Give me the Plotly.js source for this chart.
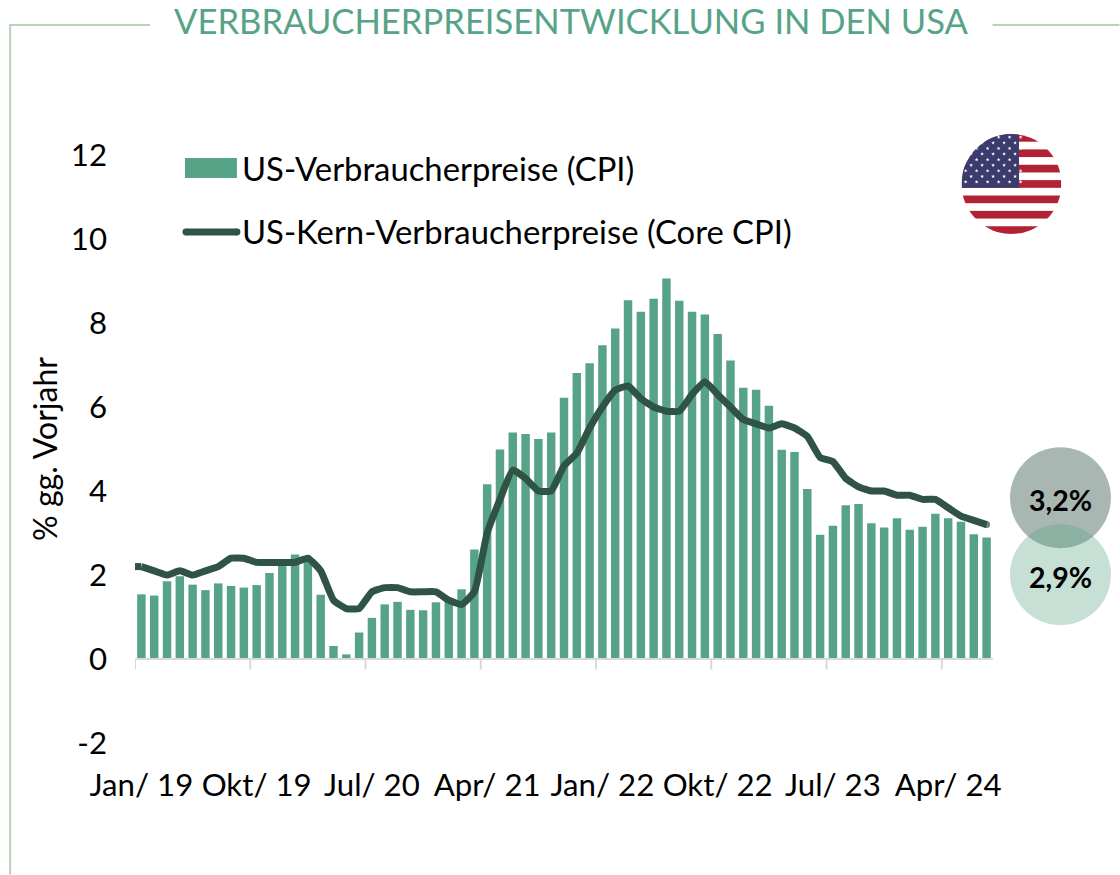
<!DOCTYPE html>
<html><head><meta charset="utf-8">
<script src="https://cdn.plot.ly/plotly-3.0.1.min.js"></script>
<style>html,body{margin:0;padding:0;background:#fff}</style></head>
<body><div id="chart" style="width:1120px;height:875px"></div>
<script>
const months = ["Jan/ 19","Feb/ 19","Mrz/ 19","Apr/ 19","Mai/ 19","Jun/ 19","Jul/ 19","Aug/ 19","Sep/ 19","Okt/ 19","Nov/ 19","Dez/ 19",
"Jan/ 20","Feb/ 20","Mrz/ 20","Apr/ 20","Mai/ 20","Jun/ 20","Jul/ 20","Aug/ 20","Sep/ 20","Okt/ 20","Nov/ 20","Dez/ 20",
"Jan/ 21","Feb/ 21","Mrz/ 21","Apr/ 21","Mai/ 21","Jun/ 21","Jul/ 21","Aug/ 21","Sep/ 21","Okt/ 21","Nov/ 21","Dez/ 21",
"Jan/ 22","Feb/ 22","Mrz/ 22","Apr/ 22","Mai/ 22","Jun/ 22","Jul/ 22","Aug/ 22","Sep/ 22","Okt/ 22","Nov/ 22","Dez/ 22",
"Jan/ 23","Feb/ 23","Mrz/ 23","Apr/ 23","Mai/ 23","Jun/ 23","Jul/ 23","Aug/ 23","Sep/ 23","Okt/ 23","Nov/ 23","Dez/ 23",
"Jan/ 24","Feb/ 24","Mrz/ 24","Apr/ 24","Mai/ 24","Jun/ 24","Jul/ 24"];
const cpi = [1.54,1.51,1.85,1.97,1.77,1.64,1.80,1.74,1.70,1.76,2.05,2.29,
2.49,2.33,1.53,0.31,0.11,0.63,0.98,1.30,1.36,1.17,1.16,1.35,
1.40,1.66,2.61,4.16,4.99,5.39,5.36,5.24,5.39,6.22,6.81,7.04,
7.47,7.87,8.54,8.27,8.58,9.06,8.53,8.27,8.20,7.74,7.11,6.46,
6.41,6.03,4.98,4.93,4.05,2.96,3.17,3.66,3.69,3.23,3.13,3.35,
3.08,3.15,3.46,3.35,3.27,2.97,2.89];
const core = [2.2,2.1,2.0,2.1,2.0,2.1,2.2,2.4,2.4,2.3,2.3,2.3,
2.3,2.4,2.1,1.4,1.2,1.2,1.6,1.7,1.7,1.6,1.6,1.6,
1.4,1.3,1.6,3.0,3.8,4.5,4.3,4.0,4.0,4.6,4.9,5.5,
6.0,6.4,6.5,6.2,6.0,5.9,5.9,6.3,6.6,6.3,6.0,5.7,
5.6,5.5,5.6,5.5,5.3,4.8,4.7,4.3,4.1,4.0,4.0,3.9,
3.9,3.8,3.8,3.6,3.4,3.3,3.2];
const xTickVals = ["Jan/ 19","Okt/ 19","Jul/ 20","Apr/ 21","Jan/ 22","Okt/ 22","Jul/ 23","Apr/ 24"];
const yTickVals = [-2,0,2,4,6,8,10,12];
const yTickText = ["-2","0","2","4","6","8","10","12"];
const cpiName = "US-Verbraucherpreise (CPI)";
const coreName = "US-Kern-Verbraucherpreise (Core CPI)";
const chartTitle = "VERBRAUCHERPREISENTWICKLUNG IN DEN USA";
const yTitle = "% gg. Vorjahr";
const lastCore = "3,2%", lastCpi = "2,9%";

const GREEN="#57A387", DARK="#2F5345", FRAME="#B9D3B8", TICK="#D9D9D9", FONT="Lato";
const L=135,T=155,W=858.5,H=588.5;
const px=x=>(x-L)/W, py=y=>1-(y-T)/H;
const pshape=(o)=>Object.assign({xref:"paper",yref:"paper"},o);
const seg=(x0,y0,x1,y1,color,width)=>pshape({type:"line",x0:px(x0),x1:px(x1),y0:py(y0),y1:py(y1),line:{color:color,width:width}});
const circ=(cx,cy,r,color,op)=>pshape({type:"circle",x0:px(cx-r),x1:px(cx+r),y0:py(cy-r),y1:py(cy+r),fillcolor:color,opacity:op,line:{width:0}});
const label=(x,y,text,size,anchor,color,weight)=>({xref:"paper",yref:"paper",x:px(x),y:py(y),text:text,showarrow:false,xanchor:anchor,yanchor:"middle",font:{family:FONT,size:size,color:color||"#000",weight:weight||400}});
const tickMarks=xTickVals.map(v=>({type:"line",xref:"x",yref:"y",x0:months.indexOf(v)-0.5,x1:months.indexOf(v)-0.5,y0:0,y1:-0.25,line:{color:TICK,width:2}}));

function flag(){
  const red="#B22234",blue="#3C3B6E",s=100/13;
  let b='<svg xmlns="http://www.w3.org/2000/svg" width="200" height="200" viewBox="0 0 100 100"><defs><clipPath id="c"><circle cx="50" cy="50" r="50"/></clipPath></defs><g clip-path="url(#c)"><rect width="100" height="100" fill="#fff"/>';
  for(let i=0;i<13;i+=2) b+='<rect x="0" y="'+(i*s)+'" width="100" height="'+s+'" fill="'+red+'"/>';
  b+='<rect x="0" y="0" width="57.5" height="'+(7*s)+'" fill="'+blue+'"/>';
  for(let r=0;r<9;r++){const n=r%2?5:6;for(let c=0;c<n;c++){
    const cx=(r%2?9.6:4.1)+c*11, cy=3.2+r*5.6; let p=[];
    for(let k=0;k<10;k++){const a=-Math.PI/2+k*Math.PI/5,q=k%2?0.8:2.0;p.push((cx+q*Math.cos(a)).toFixed(2)+","+(cy+q*Math.sin(a)).toFixed(2));}
    b+='<polygon points="'+p.join(" ")+'" fill="#fff"/>';
  }}
  return "data:image/svg+xml;base64,"+btoa(b+'</g></svg>');
}

const traces=[
 {type:"bar",x:months,y:cpi,name:cpiName,marker:{color:GREEN,line:{width:0}},hoverinfo:"x+y"},
 {type:"scatter",mode:"lines+markers",x:months,y:core,name:coreName,line:{color:DARK,width:7,shape:"spline",smoothing:0.4},
  marker:{color:DARK,size:core.map((v,i)=>i===core.length-1?7:0),line:{width:0}},hoverinfo:"x+y"}
];
const layout={
 width:1120,height:875,paper_bgcolor:"#fff",plot_bgcolor:"#fff",showlegend:false,bargap:0.34,
 margin:{l:L,r:1120-L-W,t:T,b:875-T-H,pad:0},
 title:{text:chartTitle,x:571/1120,xref:"container",xanchor:"center",y:1-22/875,yref:"container",yanchor:"middle",font:{family:FONT,size:34.6,color:GREEN}},
 xaxis:{type:"category",categoryorder:"array",categoryarray:months,range:[-0.5,66.5],tickmode:"array",tickvals:xTickVals,ticktext:xTickVals,
   anchor:"free",position:2/14,showline:true,linecolor:TICK,linewidth:2,ticks:"",showgrid:false,zeroline:false,
   ticklabelstandoff:99,tickangle:0,tickfont:{family:FONT,size:31.2,color:"#000"}},
 yaxis:{range:[-2,12],tickmode:"array",tickvals:yTickVals,ticktext:yTickText,ticks:"",showgrid:false,zeroline:false,showline:false,ticklabelstandoff:27,
   tickfont:{family:FONT,size:31.2,color:"#000"},title:{text:yTitle,standoff:3,font:{family:FONT,size:32,color:"#000"}}},
 shapes:[
  seg(10,25,150,25,FRAME,2), seg(10,24,10,875,FRAME,2), seg(993,25,1120,25,FRAME,2),
  pshape({type:"rect",x0:px(185),x1:px(237),y0:py(158),y1:py(178),fillcolor:GREEN,line:{width:0}}),
  seg(186,232,237,232,DARK,7), circ(186,232,3.5,DARK,1), circ(237,232,3.5,DARK,1),
  {type:"line",xref:"x",yref:"y",x0:-0.5,x1:0,y0:core[0],y1:core[0],line:{color:DARK,width:7}},
  circ(1061,498,50.5,DARK,0.42), circ(1061,575,50.5,GREEN,0.34)
 ].concat(tickMarks),
 annotations:[
  label(240,168.5,cpiName,32.8,"left"), label(240,232,coreName,32.8,"left"),
  label(1061,500,lastCore,28.5,"center","#000",700), label(1061,577,lastCpi,28.5,"center","#000",700)
 ],
 images:[{source:flag(),xref:"paper",yref:"paper",x:px(962),y:py(134),sizex:100/W,sizey:100/H,xanchor:"left",yanchor:"top",sizing:"stretch",layer:"above"}]
};
Plotly.newPlot("chart",traces,layout,{displayModeBar:false,responsive:false});
</script></body></html>
